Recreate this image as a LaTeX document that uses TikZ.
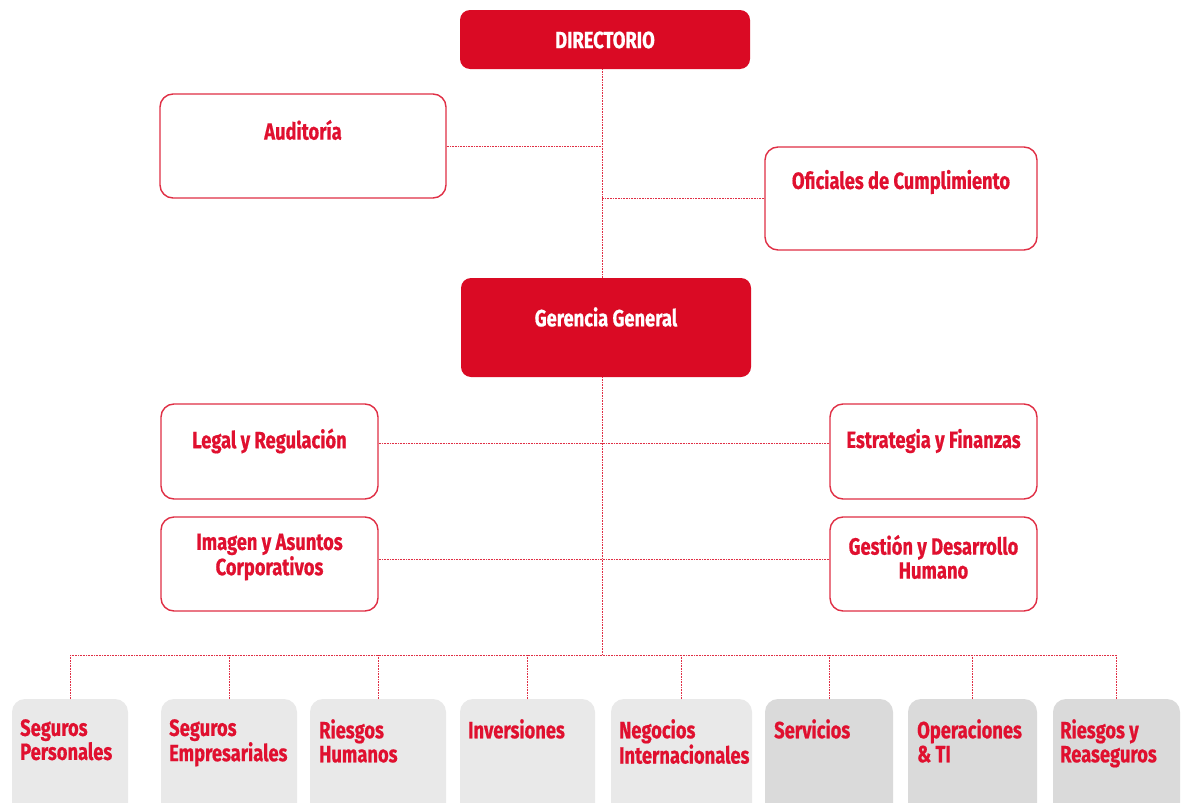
\documentclass[tikz,border=0pt]{standalone}
\usepackage{fontspec}
\newfontfamily\cond[FakeStretch=0.78,FakeBold=0.6]{Fira Sans}
\definecolor{cred}{HTML}{DA0A24}
\definecolor{tred}{HTML}{E0102F}
\definecolor{gla}{HTML}{E9E9E9}
\definecolor{glb}{HTML}{DADADA}
\begin{document}
\begin{tikzpicture}[x=1pt,y=-1pt,
  redbox/.style={fill=cred, rounded corners=10pt, inner sep=0pt},
  wbox/.style={draw=cred!85, line width=1.4pt, fill=white, rounded corners=13pt, inner sep=0pt},
  gboxa/.style={fill=gla, rounded corners=13pt, inner sep=0pt},
  gboxb/.style={fill=glb, rounded corners=13pt, inner sep=0pt},
  conn/.style={draw=cred!85, line width=1pt, dash pattern=on 1pt off 0.6pt},
  wtxt/.style={text=white, font=\cond\bfseries\fontsize{23.5}{24}\selectfont, align=center, inner sep=0pt},
  rtxt/.style={text=tred, font=\cond\bfseries\fontsize{23.5}{24}\selectfont, align=center, inner sep=0pt},
  btxt/.style={text=tred, font=\cond\bfseries\fontsize{23.5}{24}\selectfont, align=left, inner sep=0pt, anchor=north west},
]
\clip (0,0) rectangle (1184,803);
\fill[white] (0,0) rectangle (1184,803);

% boxes
\node[redbox, minimum width=290pt, minimum height=59pt] (dir) at (605,39.5) {};
\node[wbox, minimum width=286pt, minimum height=104pt] (aud) at (303,146) {};
\node[wbox, minimum width=272pt, minimum height=103pt] (ofi) at (901,198.5) {};
\node[redbox, minimum width=290pt, minimum height=99pt] (gg) at (606,327.5) {};
\node[wbox, minimum width=217pt, minimum height=95pt] (leg) at (269.5,451.5) {};
\node[wbox, minimum width=217pt, minimum height=94pt] (ima) at (269.5,564) {};
\node[wbox, minimum width=207pt, minimum height=95pt] (est) at (933.5,451.5) {};
\node[wbox, minimum width=207pt, minimum height=94pt] (ges) at (933.5,564) {};

\node[gboxa, minimum width=116pt, minimum height=121pt] (b1) at (70,759.5) {};
\node[gboxa, minimum width=136pt, minimum height=121pt] (b2) at (229,759.5) {};
\node[gboxa, minimum width=136pt, minimum height=121pt] (b3) at (378,759.5) {};
\node[gboxa, minimum width=135pt, minimum height=121pt] (b4) at (527.5,759.5) {};
\node[gboxa, minimum width=141pt, minimum height=121pt] (b5) at (681.5,759.5) {};
\node[gboxb, minimum width=128pt, minimum height=121pt] (b6) at (829,759.5) {};
\node[gboxb, minimum width=129pt, minimum height=121pt] (b7) at (972.5,759.5) {};
\node[gboxb, minimum width=127pt, minimum height=121pt] (b8) at (1116.5,759.5) {};

% texts
\node[wtxt] (tdir) at (605,40) {DIRECTORIO};
\node[rtxt] (taud) at (303,130) {Auditoría};
\node[rtxt] (tofi) at (901,182) {Oficiales de Cumplimiento};
\node[wtxt] (tgg) at (606,317) {Gerencia General};
\node[rtxt] (tleg) at (269.5,441) {Legal y Regulación};
\node[rtxt] (tima) at (269.5,557) {Imagen y Asuntos\\Corporativos};
\node[rtxt] (test) at (933.5,441) {Estrategia y Finanzas};
\node[rtxt] (tges) at (933.5,557) {Gestión y Desarrollo\\Humano};

\node[btxt] (t1) at (20,719) {Seguros\\Personales};
\node[btxt] (t2) at (169,719) {Seguros\\Empresariales};
\node[btxt] (t3) at (319,719) {Riesgos\\Humanos};
\node[btxt] (t4) at (468,719) {Inversiones};
\node[btxt] (t5) at (619,719) {Negocios\\Internacionales};
\node[btxt] (t6) at (774,719) {Servicios};
\node[btxt] (t7) at (917,719) {Operaciones\\\&{} TI};
\node[btxt] (t8) at (1060,719) {Riesgos y\\Reaseguros};

% connectors
\coordinate (bus) at (602,655);
\coordinate (l1) at (602,443);
\coordinate (l2) at (602,559);
\draw[conn] (dir.south -| bus) -- (gg.north -| bus);
\draw[conn] (gg.south -| bus) -- (bus);
\draw[conn] (aud.east) -- (aud.east -| bus);
\draw[conn] (ofi.west) -- (ofi.west -| bus);
\draw[conn] (leg.east |- l1) -- (est.west |- l1);
\draw[conn] (ima.east |- l2) -- (ges.west |- l2);
\draw[conn] (b1.north |- bus) -- (b8.north |- bus);
\foreach \i in {1,...,8} {
  \draw[conn] (b\i.north |- bus) -- (b\i.north);
}
\end{tikzpicture}
\end{document}
